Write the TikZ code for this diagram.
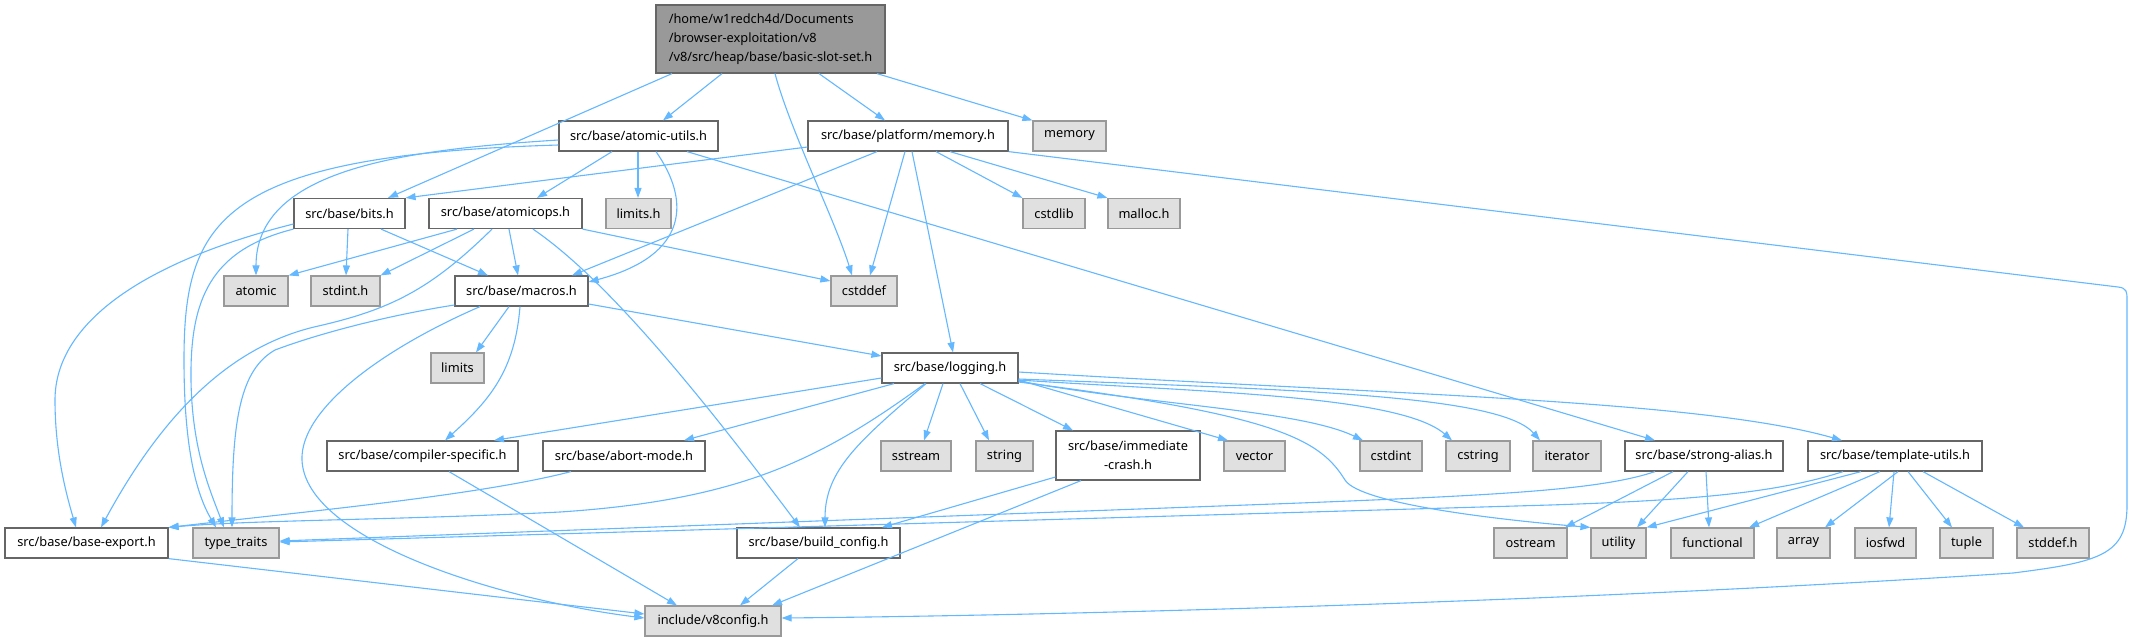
\documentclass[tikz,border=0pt]{standalone}
\usepackage{fontspec}
\setmainfont{Noto Sans}
\usetikzlibrary{arrows.meta}
\definecolor{edgeblue}{HTML}{63B8FF}
\definecolor{borderdark}{HTML}{666666}
\definecolor{borderlight}{HTML}{999999}
\definecolor{graybg}{HTML}{E0E0E0}
\definecolor{mainbg}{HTML}{999999}
\begin{document}
\begin{tikzpicture}[x=1pt,y=-1pt,
  box/.style={draw, line width=1.2pt, inner sep=0pt, minimum height=30pt, font=\fontsize{12.8}{19}\selectfont},
  wbox/.style={box, draw=borderdark, fill=white},
  gbox/.style={box, draw=borderlight, fill=graybg},
  dep/.style={draw=edgeblue, line width=1.1pt, -{Triangle[length=10pt,width=7pt]}}]
\useasboundingbox[fill=white] (0,0) rectangle (2135,641);

% nodes
\node[box, draw=borderdark, fill=mainbg, minimum width=229pt, minimum height=68pt, align=left] (main) at (770.5,39) {/home/w1redch4d/Documents\\/browser-exploitation/v8\\/v8/src/heap/base/basic-slot-set.h};
\node[wbox, minimum width=159pt] (atomicutils) at (638.5,136) {src/base/atomic-utils.h};
\node[wbox, minimum width=200pt] (memoryh) at (908,136) {src/base/platform/memory.h};
\node[gbox, minimum width=73pt] (memory) at (1069.5,136) {memory};
\node[wbox, minimum width=111pt] (bits) at (349.5,213.5) {src/base/bits.h};
\node[wbox, minimum width=153pt] (atomicops) at (505.5,213.5) {src/base/atomicops.h};
\node[gbox, minimum width=65pt] (limitsh) at (638.5,213.5) {limits.h};
\node[gbox, minimum width=62pt] (cstdlib) at (1054,213.5) {cstdlib};
\node[gbox, minimum width=72pt] (mallocH) at (1144,213.5) {malloc.h};
\node[gbox, minimum width=64pt] (atomic) at (256,291) {atomic};
\node[gbox, minimum width=69pt] (stdint) at (345.5,291) {stdint.h};
\node[wbox, minimum width=133pt] (macros) at (521.5,291) {src/base/macros.h};
\node[gbox, minimum width=66pt] (cstddef) at (864,291) {cstddef};
\node[gbox, minimum width=53pt] (limits) at (457.5,368) {limits};
\node[wbox, minimum width=136pt] (logging) at (950,368) {src/base/logging.h};
\node[wbox, minimum width=191pt] (compspec) at (422.5,456) {src/base/compiler-specific.h};
\node[wbox, minimum width=162pt] (abort) at (624,456) {src/base/abort-mode.h};
\node[gbox, minimum width=70pt] (sstream) at (916,456) {sstream};
\node[gbox, minimum width=57pt] (string) at (1004.5,456) {string};
\node[wbox, minimum width=144pt, minimum height=49pt, align=center] (immcrash) at (1128,455.5) {src/base/immediate\\-crash.h};
\node[gbox, minimum width=61pt] (vector) at (1254.5,456) {vector};
\node[gbox, minimum width=62pt] (cstdint) at (1391,456) {cstdint};
\node[gbox, minimum width=64pt] (cstring) at (1478,456) {cstring};
\node[gbox, minimum width=68pt] (iterator) at (1567,456) {iterator};
\node[wbox, minimum width=158pt] (strongalias) at (1704,456) {src/base/strong-alias.h};
\node[wbox, minimum width=174pt] (templateutils) at (1895,456) {src/base/template-utils.h};
\node[wbox, minimum width=163pt] (baseexport) at (86.5,543) {src/base/base-export.h};
\node[gbox, minimum width=86pt] (typetraits) at (236,543) {type\_traits};
\node[wbox, minimum width=163pt] (buildconfig) at (818.5,543) {src/base/build\_config.h};
\node[gbox, minimum width=73pt] (ostream) at (1530.5,543) {ostream};
\node[gbox, minimum width=55pt] (utility) at (1618.5,543) {utility};
\node[gbox, minimum width=83pt] (functional) at (1712.5,543) {functional};
\node[gbox, minimum width=53pt] (array) at (1803.5,543) {array};
\node[gbox, minimum width=61pt] (iosfwd) at (1885.5,543) {iosfwd};
\node[gbox, minimum width=53pt] (tuple) at (1966.5,543) {tuple};
\node[gbox, minimum width=72pt] (stddefh) at (2053,543) {stddef.h};
\node[gbox, minimum width=136pt] (v8config) at (713,621) {include/v8config.h};

% main
\draw[dep] (main.south -| 672,0) -- (bits.north -| 388,0);
\draw[dep] (main.south -| 722,0) -- (atomicutils.north -| 663,0);
\draw[dep] (main.south -| 775,0) .. controls (790,130) and (835,220) .. (cstddef.north -| 852,0);
\draw[dep] (main.south -| 819,0) -- (memoryh.north -| 885,0);
\draw[dep] (main.south -| 877,0) -- (memory.north west);

% atomic-utils
\draw[dep] (atomicutils.south -| 612,0) -- (atomicops.north -| 537,0);
\draw[dep] (atomicutils.south -| 638,0) -- (limitsh.north -| 638,0);
\draw[dep] (atomicutils.south -| 656,0) .. controls (690,200) and (690,255) .. (macros.east |- 0,282);
\draw[dep] (atomicutils.south -| 687,0) -- (strongalias.north -| 1655,0);
\draw[dep] (atomicutils.west |- 0,140) .. controls (400,150) and (256,170) .. (atomic.north);
\draw[dep] (atomicutils.west |- 0,145) .. controls (220,155) and (184,220) .. (184,360) .. controls (184,460) and (200,500) .. (typetraits.north -| 216,0);

% bits
\draw[dep] (bits.south -| 348,0) -- (stdint.north -| 346,0);
\draw[dep] (bits.south -| 381,0) -- (macros.north -| 488,0);
\draw[dep] (bits.west |- 0,224) .. controls (150,260) and (55,320) .. (55,400) .. controls (55,450) and (65,490) .. (baseexport.north -| 76,0);
\draw[dep] (bits.south west) .. controls (210,250) and (190,300) .. (191,380) .. controls (192,450) and (210,490) .. (typetraits.north -| 224,0);

% atomicops
\draw[dep] (atomicops.south -| 457,0) -- (atomic.north east);
\draw[dep] (atomicops.south -| 474,0) -- (stdint.north east);
\draw[dep] (atomicops.south -| 509,0) -- (macros.north -| 518,0);
\draw[dep] (atomicops.south east) -- (cstddef.west |- 0,281);
\draw[dep] (atomicops.south -| 533,0) .. controls (603,277) and (690,381) .. (buildconfig.north -| 800,0);
\draw[dep] (atomicops.south -| 492,0) .. controls (430,290) and (390,310) .. (314,327) .. controls (240,345) and (170,400) .. (baseexport.north -| 101,0);

% macros
\draw[dep] (macros.west |- 0,305) .. controls (390,315) and (320,333) .. (275,350) .. controls (240,370) and (232,420) .. (typetraits.north -| 232,0);
\draw[dep] (macros.south -| 480,0) .. controls (380,350) and (300,410) .. (302,460) .. controls (305,540) and (500,600) .. (v8config.west |- 0,618);
\draw[dep] (macros.south -| 509,0) -- (limits.north -| 476,0);
\draw[dep] (macros.south -| 520,0) .. controls (515,370) and (490,400) .. (compspec.north -| 445,0);
\draw[dep] (macros.east |- 0,304) -- (logging.west |- 0,356);

% platform/memory.h
\draw[dep] (memoryh.west |- 0,147) -- (bits.north east);
\draw[dep] (memoryh.south -| 877,0) -- (macros.north -| 572,0);
\draw[dep] (memoryh.south -| 905,0) -- (cstddef.north -| 870,0);
\draw[dep] (memoryh.south -| 912,0) -- (logging.north -| 953,0);
\draw[dep] (memoryh.south -| 936,0) -- (cstdlib.north west);
\draw[dep] (memoryh.south -| 950,0) -- (mallocH.north west);
\draw[dep] (memoryh.south east) -- (2118,287) .. controls (2127,288) and (2127,292) .. (2127,300) -- (2127,505) .. controls (2127,555) and (2100,562) .. (2013,573) .. controls (1600,600) and (1100,615) .. (v8config.east |- 0,618);

% logging
\draw[dep] (logging.west |- 0,378) -- (compspec.north -| 494,0);
\draw[dep] (logging.south -| 894,0) -- (abort.north -| 684,0);
\draw[dep] (logging.south -| 925,0) .. controls (820,460) and (740,500) .. (560,512) .. controls (400,520) and (250,520) .. (baseexport.north east);
\draw[dep] (logging.south -| 926,0) .. controls (860,440) and (825,470) .. (buildconfig.north -| 825,0);
\draw[dep] (logging.south -| 943,0) -- (sstream.north -| 924,0);
\draw[dep] (logging.south -| 960,0) -- (string.north -| 989,0);
\draw[dep] (logging.south -| 980,0) -- (immcrash.north -| 1073,0);
\draw[dep] (logging.east |- 0,380) -- (vector.north -| 1228,0);
\draw[dep] (logging.east |- 0,381) .. controls (1150,405) and (1300,410) .. (cstdint.north -| 1363,0);
\draw[dep] (logging.east |- 0,380) .. controls (1200,392) and (1400,395) .. (cstring.north -| 1452,0);
\draw[dep] (logging.east |- 0,379) .. controls (1300,390) and (1500,395) .. (iterator.north -| 1540,0);
\draw[dep] (logging.east |- 0,382) .. controls (1280,415) and (1320,440) .. (1345,480) .. controls (1360,504) and (1500,520) .. (utility.north west);
\draw[dep] (logging.east |- 0,372) .. controls (1400,395) and (1700,400) .. (templateutils.north -| 1842,0);

% immediate-crash, compiler-specific, abort-mode, build_config, base-export
\draw[dep] (immcrash.west |- 0,477) -- (buildconfig.north -| 882,0);
\draw[dep] (immcrash.south -| 1081,0) -- (v8config.north -| 772,0);
\draw[dep] (compspec.south -| 449,0) -- (v8config.north -| 677,0);
\draw[dep] (abort.south -| 571,0) .. controls (480,495) and (320,510) .. (baseexport.north east);
\draw[dep] (buildconfig.south -| 798,0) -- (v8config.north -| 740,0);
\draw[dep] (baseexport.south east) -- (v8config.west |- 0,614);

% strong-alias
\draw[dep] (strongalias.south -| 1655,0) .. controls (1600,490) and (1500,495) .. (1300,503) -- (typetraits.east |- 0,541);
\draw[dep] (strongalias.south -| 1673,0) -- (ostream.north -| 1565,0);
\draw[dep] (strongalias.south -| 1688,0) -- (utility.north -| 1637,0);
\draw[dep] (strongalias.south -| 1706,0) -- (functional.north -| 1709,0);

% template-utils
\draw[dep] (templateutils.south -| 1843,0) .. controls (1780,492) and (1700,500) .. (1550,505) -- (typetraits.east |- 0,542);
\draw[dep] (templateutils.south -| 1861,0) -- (utility.north east);
\draw[dep] (templateutils.south -| 1880,0) -- (functional.north -| 1749,0);
\draw[dep] (templateutils.south -| 1898,0) -- (array.north -| 1825,0);
\draw[dep] (templateutils.south -| 1894,0) -- (iosfwd.north -| 1889,0);
\draw[dep] (templateutils.south -| 1908,0) -- (tuple.north -| 1952,0);
\draw[dep] (templateutils.south -| 1923,0) -- (stddefh.north -| 2024,0);
\end{tikzpicture}
\end{document}
